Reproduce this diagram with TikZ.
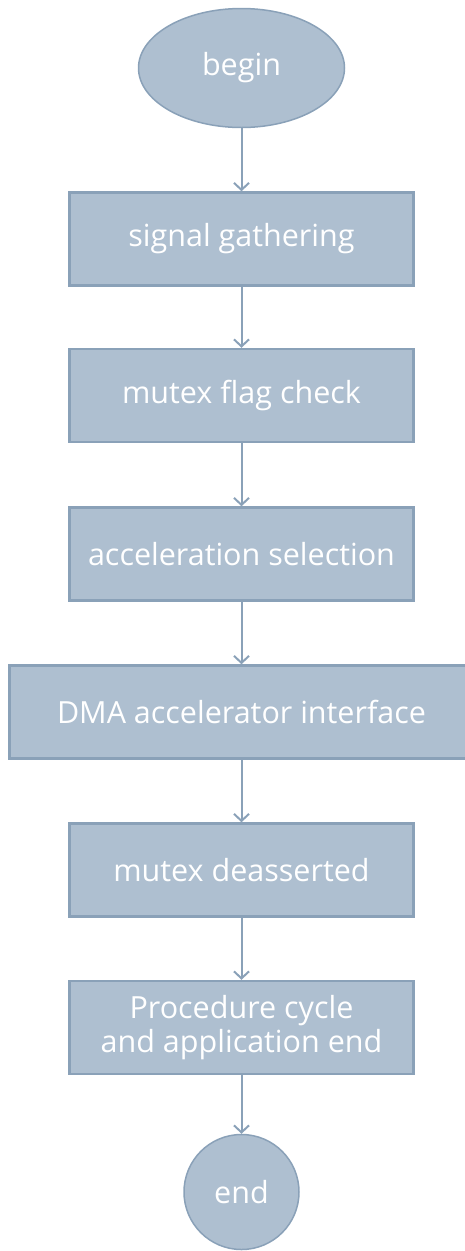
\documentclass[tikz,border=0pt]{standalone}
\usepackage{fontspec}
\setmainfont{Open Sans}
\usetikzlibrary{shapes.geometric,arrows.meta}
\definecolor{boxfill}{HTML}{AEBFD0}
\definecolor{boxline}{HTML}{8AA1B8}
\begin{document}
\begin{tikzpicture}[x=1pt, y=-1pt,
		every node/.style={text=white, font=\fontsize{30.5}{33.5}\selectfont, align=center},
		stepbox/.style={draw=boxline, fill=boxfill, line width=2.5pt, minimum width=344pt, minimum height=93pt, inner sep=0pt},
		terminal/.style={draw=boxline, fill=boxfill, line width=1.5pt, inner sep=0pt},
		flow/.style={draw=boxline, line width=2pt, -{Straight Barb[length=7pt, width=15pt]}}]
			\useasboundingbox (0,0) rectangle (465,1251);
			\node[terminal, ellipse, minimum width=206pt, minimum height=119pt] (begin) at (241.5,68) {begin};
			\node[stepbox] (gather) at (241.5,239) {signal gathering};
			\node[stepbox] (check) at (241.5,395.5) {mutex flag check};
			\node[stepbox] (select) at (241.5,554) {acceleration selection};
			\node[stepbox, minimum width=464pt] (dma) at (241.5,712) {DMA accelerator interface};
			\node[stepbox] (deassert) at (241.5,870) {mutex deasserted};
			\node[stepbox] (cycle) at (241.5,1027.5) {Procedure cycle\\and application end};
			\node[terminal, circle, minimum size=115pt] (end) at (241.5,1192) {end};
			\draw[flow] (begin) -- (gather);
			\draw[flow] (gather) -- (check);
			\draw[flow] (check) -- (select);
			\draw[flow] (select) -- (dma);
			\draw[flow] (dma) -- (deassert);
			\draw[flow] (deassert) -- (cycle);
			\draw[flow] (cycle) -- (end);
		\end{tikzpicture}
\end{document}
